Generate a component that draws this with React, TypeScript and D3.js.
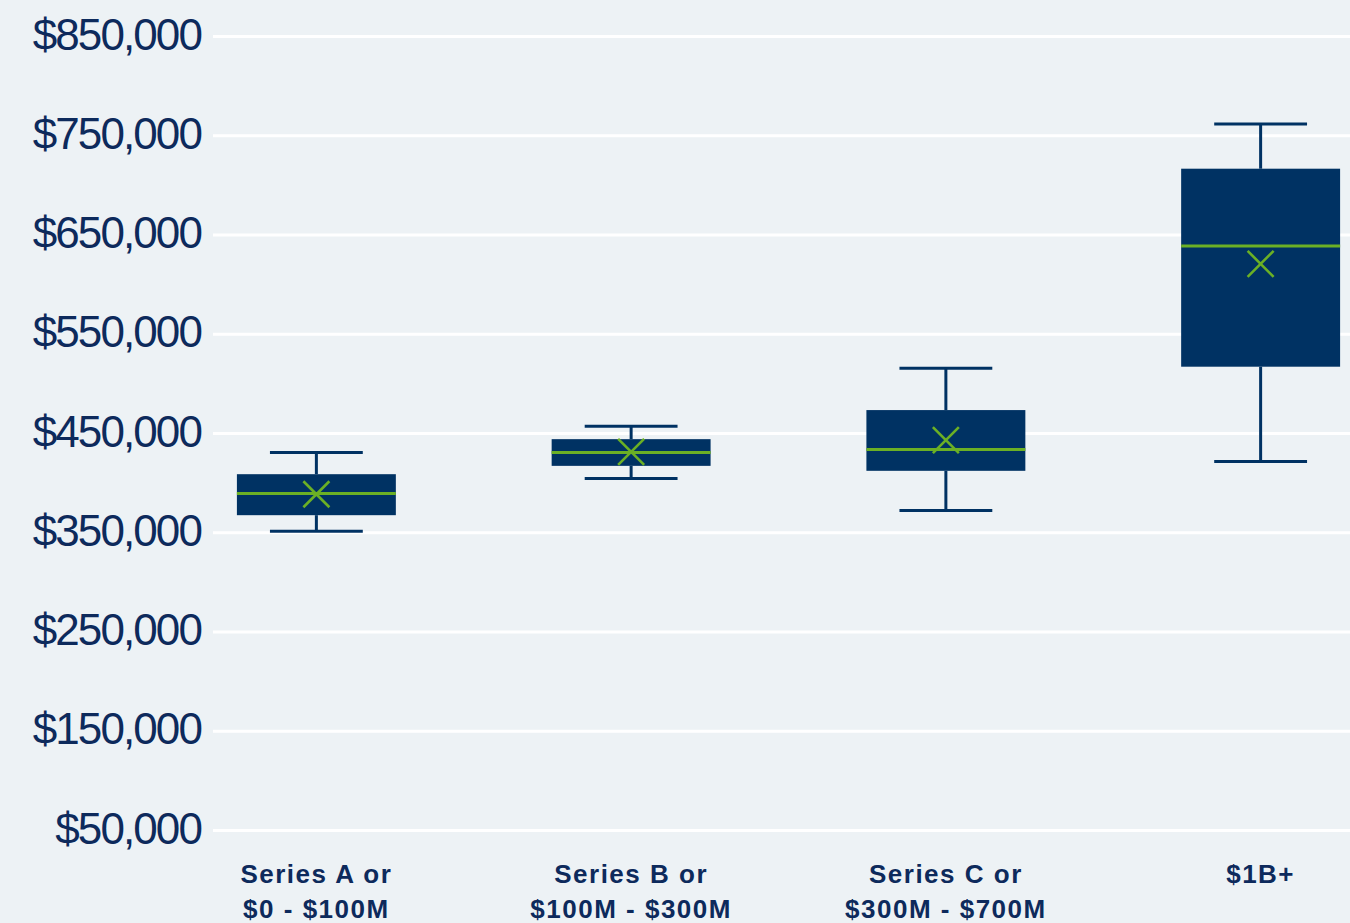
import React from "react";
import * as d3 from "d3";

const categories: string[][] = [
  ["Series A or", "$0 - $100M"],
  ["Series B or", "$100M - $300M"],
  ["Series C or", "$300M - $700M"],
  ["$1B+"],
];
const whiskerLow = [351500, 404700, 372400, 421800];
const q1Values = [367700, 417400, 412400, 517300];
const medianValues = [389600, 430900, 434000, 638800];
const q3Values = [409000, 444300, 473600, 716800];
const whiskerHigh = [430900, 457200, 515700, 761900];
const meanValues = [388800, 431500, 443300, 620900];
const yTicks = [50000, 150000, 250000, 350000, 450000, 550000, 650000, 750000, 850000];

const W = 1350;
const H = 923;
const NAVY = "#003263";
const GREEN = "#6bb025";
const BG = "#edf2f5";
const TEXT = "#0d2a5c";

export default function App() {
  const x = d3
    .scaleBand<number>()
    .domain(categories.map((_, i) => i))
    .range([159, 1418])
    .padding(0);
  const y = d3.scaleLinear().domain([50000, 850000]).range([830.5, 36.5]);
  const step = x.step();
  const boxW = step * 0.505;
  const capW = step * 0.295;
  const fmt = (v: number) => "$" + d3.format(",")(v);
  const gridX0 = 213;

  return (
    <div style={{ position: "absolute", left: 0, top: 0, width: W, height: H }}>
      <svg width={W} height={H} style={{ display: "block", background: BG }}>
        <rect x={0} y={0} width={W} height={H} fill={BG} />
        {yTicks.map((t) => (
          <g key={t}>
            <line x1={gridX0} x2={W} y1={y(t)} y2={y(t)} stroke="#ffffff" strokeWidth={3} />
            <text
              x={201}
              y={y(t) + 13}
              textAnchor="end"
              fontFamily="'Liberation Sans', Arial, sans-serif"
              fontSize={44}
              letterSpacing={-1.9}
              fill={TEXT}
            >
              {fmt(t)}
            </text>
          </g>
        ))}
        {categories.map((_, i) => {
          const cx = (x(i) as number) + step / 2;
          return (
            <g key={i}>
              <line x1={cx} x2={cx} y1={y(whiskerHigh[i])} y2={y(q3Values[i])} stroke={NAVY} strokeWidth={3} />
              <line x1={cx} x2={cx} y1={y(q1Values[i])} y2={y(whiskerLow[i])} stroke={NAVY} strokeWidth={3} />
              <line x1={cx - capW / 2} x2={cx + capW / 2} y1={y(whiskerHigh[i])} y2={y(whiskerHigh[i])} stroke={NAVY} strokeWidth={3} />
              <line x1={cx - capW / 2} x2={cx + capW / 2} y1={y(whiskerLow[i])} y2={y(whiskerLow[i])} stroke={NAVY} strokeWidth={3} />
              <rect
                x={cx - boxW / 2}
                y={y(q3Values[i])}
                width={boxW}
                height={y(q1Values[i]) - y(q3Values[i])}
                fill={NAVY}
              />
              <line
                x1={cx - boxW / 2}
                x2={cx + boxW / 2}
                y1={y(medianValues[i])}
                y2={y(medianValues[i])}
                stroke={GREEN}
                strokeWidth={3}
              />
              <path
                d={`M${cx - 13},${y(meanValues[i]) - 13}L${cx + 13},${y(meanValues[i]) + 13}M${cx - 13},${y(meanValues[i]) + 13}L${cx + 13},${y(meanValues[i]) - 13}`}
                stroke={GREEN}
                strokeWidth={2.6}
                fill="none"
              />
            </g>
          );
        })}
        {categories.map((lines, i) => {
          const cx = (x(i) as number) + step / 2;
          return (
            <text
              key={"l" + i}
              textAnchor="middle"
              fontFamily="'Liberation Sans', Arial, sans-serif"
              fontWeight="bold"
              fontSize={26}
              letterSpacing={1.5}
              fill={TEXT}
            >
              {lines.map((ln, j) => (
                <tspan key={j} x={cx} y={883 + j * 35}>
                  {ln}
                </tspan>
              ))}
            </text>
          );
        })}
      </svg>
    </div>
  );
}
